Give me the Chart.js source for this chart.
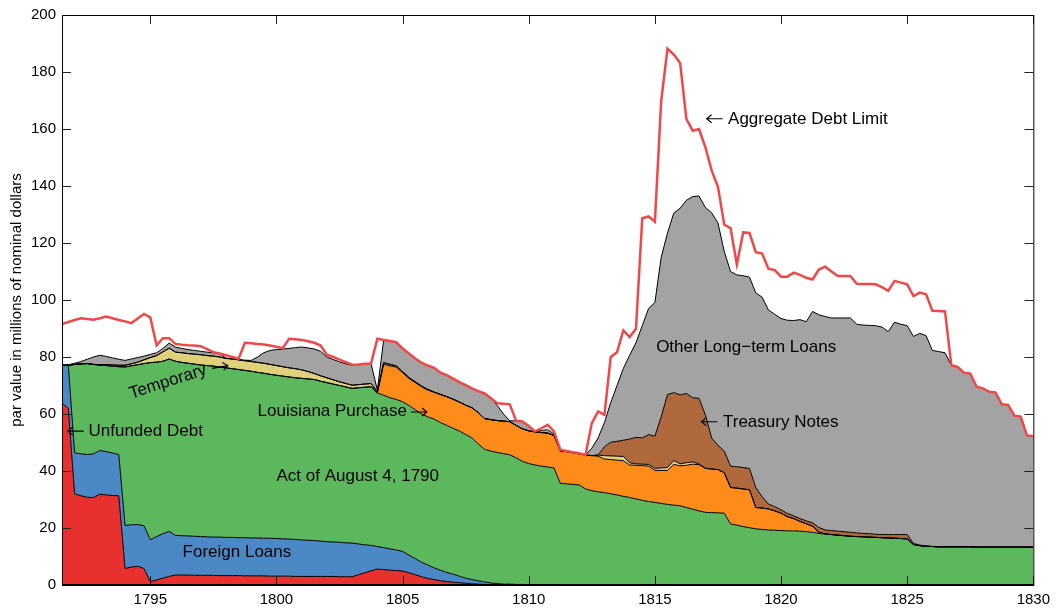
<!DOCTYPE html>
<html>
<head>
<meta charset="utf-8">
<script src="https://cdn.jsdelivr.net/npm/chart.js@4.4.1/dist/chart.umd.min.js"></script>
<style>
body{margin:0;background:#fff;}
</style>
</head>
<body>
<canvas id="debtChart" width="1056" height="609"></canvas>
<script>
// quarterly observations, 1791.5 .. 1830.0
let years = [];
for (let i = 0; i <= 154; i++) years.push(1791.5 + i * 0.25);

let xTicks = [1795, 1800, 1805, 1810, 1815, 1820, 1825, 1830];
let yTicks = [0, 20, 40, 60, 80, 100, 120, 140, 160, 180, 200];

let unfunded = [63.8, 62.0,
32.0, 31.3, 30.8, 30.7,
31.9, 31.6, 31.4, 31.3,
5.8, 6.3, 6.6, 5.8,
1.2, 1.8, 2.4, 3.0,
3.5, 3.5, 3.5, 3.4,
3.4, 3.4, 3.4, 3.3,
3.3, 3.3, 3.3, 3.2,
3.2, 3.2, 3.2, 3.1,
3.1, 3.1, 3.1, 3.0,
3.0, 3.0, 3.0, 3.0,
3.0, 3.0, 2.9, 2.9,
2.9, 3.6, 4.3, 5.0,
5.6, 5.4, 5.2, 5.1,
4.9, 4.3, 3.6, 2.9,
2.3, 1.9, 1.5, 1.2,
1.0, 0.8, 0.6, 0.4,
0.3, 0.2, 0.1, 0,
0, 0, 0, 0,
0, 0, 0, 0,
0, 0, 0, 0,
0, 0, 0, 0,
0, 0, 0, 0,
0, 0, 0, 0,
0, 0, 0, 0,
0, 0, 0, 0,
0, 0, 0, 0,
0, 0, 0, 0,
0, 0, 0, 0,
0, 0, 0, 0,
0, 0, 0, 0,
0, 0, 0, 0,
0, 0, 0, 0,
0, 0, 0, 0,
0, 0, 0, 0,
0, 0, 0, 0,
0, 0, 0, 0,
0, 0, 0, 0,
0, 0, 0, 0,
0];

let foreign = [13.3, 15.1,
14.4, 14.7, 15.0, 15.3,
15.3, 15.2, 14.9, 14.5,
15.1, 14.8, 14.6, 15.0,
14.7, 15.2, 15.6, 15.8,
13.9, 13.8, 13.7, 13.7,
13.6, 13.5, 13.4, 13.5,
13.4, 13.4, 13.3, 13.4,
13.3, 13.3, 13.2, 13.3,
13.2, 13.1, 13.0, 13.0,
12.8, 12.7, 12.6, 12.4,
12.2, 12.1, 12.1, 11.9,
11.8, 10.8, 9.8, 8.9,
7.9, 7.7, 7.5, 7.2,
6.9, 6.2, 5.7, 5.1,
4.7, 4.1, 3.7, 3.2,
2.8, 2.3, 1.8, 1.5,
1.2, 0.9, 0.6, 0.5,
0.3, 0.3, 0.2, 0.2,
0.1, 0.1, 0.1, 0.1,
0, 0, 0, 0,
0, 0, 0, 0,
0, 0, 0, 0,
0, 0, 0, 0,
0, 0, 0, 0,
0, 0, 0, 0,
0, 0, 0, 0,
0, 0, 0, 0,
0, 0, 0, 0,
0, 0, 0, 0,
0, 0, 0, 0,
0, 0, 0, 0,
0, 0, 0, 0,
0, 0, 0, 0,
0, 0, 0, 0,
0, 0, 0, 0,
0, 0, 0, 0,
0, 0, 0, 0,
0, 0, 0, 0,
0];

let act1790 = [0, 0,
31.0, 31.6, 31.9, 31.4,
29.9, 30.2, 30.5, 30.8,
55.6, 55.8, 56.1, 56.9,
62.1, 61.2, 60.5, 60.5,
61.1, 60.8, 60.6, 60.4,
60.2, 60.1, 60.0, 59.7,
59.5, 59.2, 59.0, 58.7,
58.5, 58.1, 57.9, 57.5,
57.3, 57.1, 56.9, 56.7,
56.7, 56.6, 56.5, 56.1,
55.8, 55.4, 55.0, 54.7,
54.3, 54.8, 55.3, 55.7,
53.9, 53.5, 53.0, 52.8,
52.5, 52.5, 52.2, 52.0,
52.0, 52.2, 51.8, 51.6,
51.2, 50.9, 50.4, 49.7,
48.0, 46.5, 46.3, 46.0,
45.8, 45.4, 44.4, 43.2,
42.5, 42.0, 41.6, 41.3,
41.1, 35.7, 35.5, 35.3,
35.1, 33.7, 33.1, 32.7,
32.4, 32.0, 31.6, 31.1,
30.7, 30.2, 29.7, 29.3,
29.0, 28.6, 28.3, 28.0,
27.8, 27.2, 26.6, 26.0,
25.5, 25.4, 25.3, 25.2,
21.4, 21.0, 20.5, 20.1,
19.7, 19.5, 19.3, 19.2,
19.1, 19.0, 19.0, 18.9,
18.7, 18.5, 18.1, 17.9,
17.7, 17.5, 17.3, 17.1,
17.0, 16.9, 16.8, 16.7,
16.6, 16.5, 16.4, 16.3,
16.2, 14.2, 13.8, 13.6,
13.5, 13.4, 13.4, 13.4,
13.4, 13.4, 13.4, 13.3,
13.3, 13.3, 13.3, 13.3,
13.3, 13.3, 13.3, 13.3,
13.3];

let louisiana = [0, 0,
0, 0, 0, 0,
0, 0, 0, 0,
0, 0, 0, 0,
0, 0, 0, 0,
0, 0, 0, 0,
0, 0, 0, 0,
0, 0, 0, 0,
0, 0, 0, 0,
0, 0, 0, 0,
0, 0, 0, 0,
0, 0, 0, 0,
0, 0, 0, 0,
0, 10.8, 11.2, 11.3,
10.2, 9.5, 9.5, 9.6,
9.4, 9.4, 9.8, 10.1,
10.2, 10.2, 10.3, 10.6,
11.0, 10.8, 11.0, 11.2,
11.4, 11.6, 11.4, 11.4,
11.5, 11.6, 11.8, 11.9,
11.4, 11.3, 11.3, 11.1,
10.9, 11.9, 12.3, 12.5,
11.8, 12.0, 12.2, 12.5,
11.4, 11.8, 12.2, 12.4,
11.2, 11.6, 11.9, 14.3,
14.0, 14.8, 15.8, 16.2,
15.4, 15.3, 15.2, 14.2,
12.8, 13.0, 13.2, 13.3,
7.5, 7.5, 7.4, 6.8,
6.1, 5.0, 4.3, 3.4,
2.8, 2.1, 0.4, 0,
0, 0, 0, 0,
0, 0, 0, 0,
0, 0, 0, 0,
0, 0, 0, 0,
0, 0, 0, 0,
0, 0, 0, 0,
0, 0, 0, 0,
0, 0, 0, 0,
0];

let temporary = [0, 0,
0, 0, 0, 0,
0.2, 0.3, 0.4, 0.5,
0.6, 0.7, 0.9, 1.3,
1.8, 2.3, 3.3, 3.8,
3.2, 3.4, 3.4, 3.5,
3.6, 3.5, 3.5, 3.5,
3.3, 3.4, 3.4, 3.4,
3.4, 3.5, 3.5, 3.5,
3.4, 3.3, 3.2, 3.2,
3.0, 2.6, 2.1, 1.9,
1.7, 1.5, 1.3, 1.2,
1.1, 1.1, 1.1, 1.1,
0.3, 0.6, 0.5, 0.5,
0.4, 0.3, 0.3, 0.2,
0.2, 0.1, 0.1, 0,
0, 0, 0, 0,
0, 0, 0, 0,
0, 0, 0, 0,
0, 0, 0, 0,
0, 0, 0, 0,
0, 0, 0, 0.4,
1.2, 1.3, 1.4, 1.5,
0.8, 0.5, 0.5, 0.6,
0.7, 0.9, 1.0, 1.4,
0.7, 0.9, 0.8, 0.3,
0.1, 0, 0, 0,
0, 0, 0, 0,
0, 0, 0, 0,
0, 0, 0, 0,
0, 0, 0, 0,
0, 0, 0, 0,
0, 0, 0, 0,
0, 0, 0, 0,
0, 0, 0, 0,
0, 0, 0, 0,
0, 0, 0, 0,
0, 0, 0, 0,
0, 0, 0, 0,
0];

let treasuryNotes = [0, 0,
0, 0, 0, 0,
0, 0, 0, 0,
0, 0, 0, 0,
0, 0, 0, 0,
0, 0, 0, 0,
0, 0, 0, 0,
0, 0, 0, 0,
0, 0, 0, 0,
0, 0, 0, 0,
0, 0, 0, 0,
0, 0, 0, 0,
0, 0, 0, 0,
0, 0, 0, 0,
0, 0, 0, 0,
0, 0, 0, 0,
0, 0, 0, 0,
0, 0, 0, 0,
0, 0, 0, 0,
0, 0, 0, 0,
0, 0, 0, 0,
0, 0, 0, 0,
3.1, 4.8, 5.2, 5.7,
8.3, 9.3, 9.2, 10.5,
11.3, 17.9, 25.6, 23.8,
24.2, 24.3, 22.5, 23.0,
18.7, 10.9, 8.5, 7.6,
7.5, 7.5, 7.5, 7.5,
7.0, 4.0, 1.7, 1.5,
1.2, 1.1, 1.0, 1.0,
1.0, 1.2, 1.7, 1.4,
1.4, 1.4, 1.4, 1.4,
1.3, 1.2, 1.2, 1.1,
1.1, 1.2, 1.3, 1.4,
1.5, 0.4, 0.2, 0.1,
0, 0, 0, 0,
0, 0, 0, 0,
0, 0, 0, 0,
0, 0, 0, 0,
0];

let otherLoans = [0, 0.2,
0.4, 0.8, 1.5, 2.6,
3.3, 2.9, 2.5, 2.1,
1.7, 1.7, 1.6, 1.3,
1.1, 1.0, 1.2, 1.8,
1.8, 1.5, 1.4, 1.3,
1.2, 1.2, 1.2, 1.2,
0.1, 0.1, 0.1, 0.2,
0.4, 1.9, 3.7, 4.9,
5.6, 6.2, 6.8, 7.4,
8.0, 8.3, 8.6, 8.6,
7.3, 7.1, 7.0, 6.9,
7.0, 7.0, 7.0, 7.0,
0.7, 8.0, 8.2, 8.3,
8.1, 8.4, 8.2, 8.2,
8.4, 8.5, 7.6, 7.5,
7.2, 7.0, 7.0, 6.8,
7.5, 8.8, 7.5, 5.3,
2.5, 0.3, 1.6, 2.6,
1.7, 0.1, 0.7, 1.2,
0.5, 0.5, 0.2, 0.2,
0.2, 0, 2.6, 6.0,
8.5, 13.9, 19.6, 25.2,
29.4, 33.2, 39.4, 44.2,
46.9, 56.0, 56.7, 63.0,
65.5, 67.8, 70.6, 71.0,
72.8, 79.0, 78.0, 70.0,
68.3, 67.3, 67.3, 67.1,
68.3, 70.0, 68.1, 67.5,
67.1, 67.8, 68.5, 69.8,
69.9, 74.2, 74.6, 74.9,
74.6, 74.8, 75.0, 75.2,
73.2, 73.1, 73.1, 73.2,
72.8, 71.2, 74.5, 73.8,
73.3, 72.6, 74.3, 73.8,
68.8, 68.5, 68.1, 63.7,
63.1, 61.1, 60.8, 56.3,
55.7, 54.5, 54.3, 50.1,
49.9, 46.1, 45.8, 39.2,
38.9];

let debtLimit = [91.6, 92.3,
93.0, 93.6, 93.3, 93.1,
93.6, 94.2, 93.6, 93.0,
92.5, 91.9, 93.5, 95.1,
93.9, 84.1, 86.6, 86.6,
84.6, 84.3, 84.1, 84.0,
83.8, 82.8, 81.7, 81.2,
80.6, 80.0, 79.4, 85.0,
84.8, 84.6, 84.4, 84.0,
83.6, 83.1, 86.4, 86.2,
86.0, 85.5, 85.0, 84.0,
80.8, 80.0, 79.1, 78.2,
77.3, 77.4, 77.6, 77.7,
86.4, 86.0, 85.6, 85.2,
83.0, 81.2, 79.5, 78.0,
77.0, 76.2, 74.5, 73.6,
72.4, 71.2, 70.1, 69.0,
68.0, 67.2, 65.5, 63.8,
63.6, 63.4, 57.6, 57.4,
55.8, 53.9, 55.0, 56.2,
53.9, 47.5, 47.0, 46.6,
46.2, 45.6, 56.8, 60.9,
59.7, 80.0, 81.7, 89.3,
87.0, 89.9, 128.7, 129.3,
127.5, 169.8, 188.2, 186.1,
183.2, 163.5, 159.4, 160.0,
153.6, 145.5, 139.7, 126.4,
125.2, 112.5, 123.7, 123.5,
116.8, 116.3, 111.0, 110.5,
108.2, 108.2, 109.6, 108.8,
107.8, 107.2, 110.7, 111.7,
110.0, 108.4, 108.4, 108.4,
105.7, 105.6, 105.6, 105.5,
104.5, 103.2, 106.7, 106.1,
105.5, 101.4, 102.6, 102.0,
96.2, 96.1, 96.0, 77.1,
76.5, 74.5, 74.2, 69.6,
69.0, 67.8, 67.6, 63.4,
63.2, 59.4, 59.1, 52.5,
52.2];

let fontName = '"Liberation Sans", Arial, Helvetica, sans-serif';

function points(values){
  return years.map((x, i) => ({x: x, y: values[i]}));
}

function area(label, values, color, fill){
  return {
    label: label,
    data: points(values),
    backgroundColor: color,
    borderColor: "#000",
    borderWidth: 1,
    fill: fill,
    stack: "debt",
    pointRadius: 0,
    tension: 0
  };
}

// labels placed in data units (year, millions)
let notes = [
  {text: "Aggregate Debt Limit", year: 1817.9, value: 163.5},
  {text: "Other Long\u2212term Loans", year: 1815.05, value: 83.5},
  {text: "Treasury Notes", year: 1817.7, value: 57.1},
  {text: "Louisiana Purchase", year: 1799.25, value: 60.9},
  {text: "Unfunded Debt", year: 1792.55, value: 53.9},
  {text: "Act of August 4, 1790", year: 1800.0, value: 38.3},
  {text: "Foreign Loans", year: 1796.28, value: 11.6},
  {text: "Temporary", year: 1795.7, value: 71.3, angle: -18}
];

// arrows: tail start in data units, dir -1 points left, +1 points right
let arrows = [
  {year: 1817.05, value: 163.6, dir: -1},
  {year: 1816.84, value: 57.3, dir: -1},
  {year: 1791.73, value: 54.0, dir: -1},
  {year: 1805.33, value: 60.7, dir: 1},
  {year: 1797.45, value: 76.0, dir: 1, angle: -10}
];

let axisMarks = {
  id: "axisMarks",
  beforeDatasetsDraw(chart){
    let ctx = chart.ctx;
    let a = chart.chartArea;
    let x = chart.scales.x;
    let y = chart.scales.y;
    ctx.save();
    ctx.strokeStyle = "#222";
    ctx.lineWidth = 1;
    ctx.beginPath();
    yTicks.forEach(v => {
      let py = Math.round(y.getPixelForValue(v)) + 0.5;
      ctx.moveTo(a.left, py); ctx.lineTo(a.left + 9, py);
      ctx.moveTo(a.right, py); ctx.lineTo(a.right - 9, py);
    });
    xTicks.forEach(v => {
      let px = Math.round(x.getPixelForValue(v)) + 0.5;
      ctx.moveTo(px, a.top); ctx.lineTo(px, a.top + 9);
      ctx.moveTo(px, a.bottom); ctx.lineTo(px, a.bottom - 9);
    });
    ctx.stroke();
    ctx.restore();
  },
  afterDraw(chart){
    let ctx = chart.ctx;
    let a = chart.chartArea;
    let x = chart.scales.x;
    let y = chart.scales.y;
    ctx.save();
    ctx.strokeStyle = "#000";
    ctx.lineWidth = 1;
    ctx.strokeRect(a.left + 0.5, a.top + 0.5, a.right - a.left, a.bottom - a.top);
    ctx.lineWidth = 2;
    ctx.beginPath();
    ctx.moveTo(a.left, a.bottom); ctx.lineTo(a.right, a.bottom);
    ctx.stroke();

    ctx.fillStyle = "#000";
    ctx.font = "17px " + fontName;
    ctx.textBaseline = "middle";
    notes.forEach(n => {
      ctx.save();
      ctx.translate(x.getPixelForValue(n.year), y.getPixelForValue(n.value));
      if (n.angle) {
        ctx.rotate(n.angle * Math.PI / 180);
        ctx.textAlign = "center";
      } else {
        ctx.textAlign = "left";
      }
      ctx.fillText(n.text, 0, 0);
      ctx.restore();
    });

    ctx.lineWidth = 1.1;
    ctx.strokeStyle = "#000";
    arrows.forEach(r => {
      ctx.save();
      ctx.translate(x.getPixelForValue(r.year), y.getPixelForValue(r.value));
      if (r.angle) ctx.rotate(r.angle * Math.PI / 180);
      let len = 16;
      let tip = r.dir < 0 ? 0 : len;
      ctx.beginPath();
      ctx.moveTo(0, 0); ctx.lineTo(len, 0);
      ctx.moveTo(tip - r.dir * 5, -4); ctx.lineTo(tip, 0); ctx.lineTo(tip - r.dir * 5, 4);
      ctx.stroke();
      ctx.restore();
    });
    ctx.restore();
  }
};

let debtChart = new Chart(document.getElementById("debtChart"), {
  type: "line",
  data: {
    datasets: [
      area("Unfunded Debt", unfunded, "#e8312f", "origin"),
      area("Foreign Loans", foreign, "#4a89c6", "-1"),
      area("Act of August 4, 1790", act1790, "#5cb85c", "-1"),
      area("Louisiana Purchase", louisiana, "#ff8c1a", "-1"),
      area("Temporary", temporary, "#dfd07a", "-1"),
      area("Treasury Notes", treasuryNotes, "#b0693c", "-1"),
      area("Other Long-term Loans", otherLoans, "#a3a3a3", "-1"),
      {
        label: "Aggregate Debt Limit",
        data: points(debtLimit),
        borderColor: "#ee4848",
        borderWidth: 2.5,
        fill: false,
        stack: "limit",
        order: -1,
        pointRadius: 0,
        tension: 0
      }
    ]
  },
  options: {
    responsive: false,
    animation: false,
    devicePixelRatio: 1,
    layout: {padding: {top: 10, right: 20, left: 0, bottom: 0}},
    plugins: {
      legend: {display: false},
      tooltip: {enabled: false},
      filler: {drawTime: "beforeDatasetsDraw"}
    },
    scales: {
      x: {
        type: "linear",
        min: 1791.5,
        max: 1830,
        grid: {display: false, drawTicks: false},
        border: {display: false},
        afterBuildTicks: s => { s.ticks = xTicks.map(v => ({value: v})); },
        afterFit: s => { s.height = 24; },
        ticks: {
          autoSkip: false,
          maxRotation: 0,
          padding: 6,
          color: "#000",
          font: {family: fontName, size: 15},
          callback: v => String(v)
        }
      },
      y: {
        stacked: true,
        min: 0,
        max: 200,
        grid: {display: false, drawTicks: false},
        border: {display: false},
        afterBuildTicks: s => { s.ticks = yTicks.map(v => ({value: v})); },
        afterFit: s => { s.width = 62; },
        ticks: {
          padding: 6,
          color: "#000",
          font: {family: fontName, size: 15},
          callback: v => String(v)
        },
        title: {
          display: true,
          text: "par value in millions of nominal dollars",
          color: "#000",
          font: {family: fontName, size: 15},
          padding: {top: 8, bottom: 0}
        }
      }
    }
  },
  plugins: [axisMarks]
});
</script>
</body>
</html>
